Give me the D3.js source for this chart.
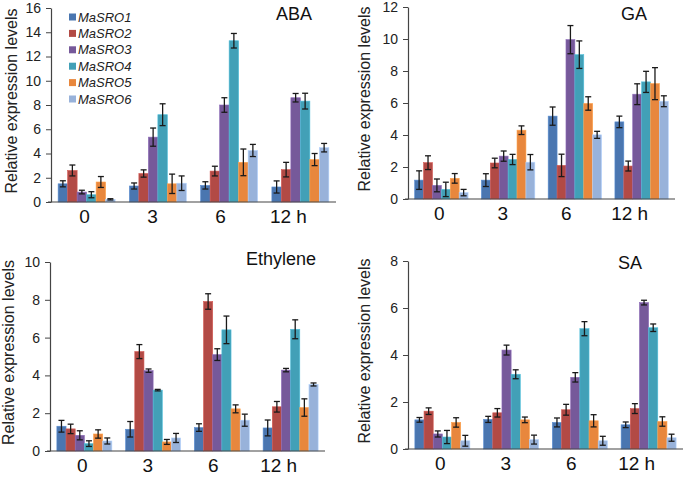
<!DOCTYPE html>
<html>
<head>
<meta charset="utf-8">
<script src="https://cdn.jsdelivr.net/npm/d3@7"></script>
<style>
  body { margin: 0; background: #fff; }
  svg { display: block; font-family: "Liberation Sans", Arial, sans-serif; }
  .axis path, .axis line { stroke: #444; }
  .axis text { fill: #222; font-size: 14px; }
</style>
</head>
<body>
<div id="root"></div>
<script>
// time points and genes
const times = ["0", "3", "6", "12 h"]
const genes = ["MaSRO1", "MaSRO2", "MaSRO3", "MaSRO4", "MaSRO5", "MaSRO6"]
const colors = ["#4A76B0", "#B24A45", "#76599A", "#42A0B7", "#E8873D", "#98B2DA"]

// means / errors per time point, one value per gene
const abaMean = [
  [1.50, 2.60, 0.82, 0.60, 1.65, 0.22],
  [1.32, 2.35, 5.35, 7.20, 1.50, 1.55],
  [1.37, 2.55, 8.00, 13.3, 3.27, 4.25],
  [1.24, 2.67, 8.60, 8.32, 3.50, 4.48]
]
const abaErr = [
  [0.25, 0.45, 0.15, 0.25, 0.45, 0.05],
  [0.25, 0.30, 0.75, 0.90, 0.80, 0.60],
  [0.30, 0.40, 0.60, 0.60, 1.10, 0.50],
  [0.50, 0.60, 0.35, 0.65, 0.50, 0.35]
]
const gaMean = [
  [1.18, 2.27, 0.85, 0.60, 1.29, 0.40],
  [1.18, 2.25, 2.68, 2.47, 4.30, 2.30],
  [5.18, 2.10, 9.96, 9.02, 5.97, 4.01],
  [4.82, 2.06, 6.55, 7.32, 7.21, 6.11]
]
const gaErr = [
  [0.58, 0.43, 0.40, 0.45, 0.30, 0.20],
  [0.40, 0.30, 0.32, 0.32, 0.27, 0.48],
  [0.57, 0.70, 0.88, 0.86, 0.42, 0.22],
  [0.36, 0.31, 0.65, 0.66, 1.00, 0.34]
]
const ethMean = [
  [1.31, 1.17, 0.83, 0.39, 0.90, 0.53],
  [1.15, 5.26, 4.25, 3.22, 0.48, 0.69],
  [1.24, 7.91, 5.10, 6.41, 2.23, 1.63],
  [1.22, 2.34, 4.28, 6.44, 2.30, 3.52]
]
const ethErr = [
  [0.31, 0.25, 0.24, 0.15, 0.22, 0.16],
  [0.41, 0.37, 0.09, 0.04, 0.13, 0.24],
  [0.20, 0.41, 0.31, 0.73, 0.21, 0.32],
  [0.42, 0.28, 0.09, 0.50, 0.46, 0.08]
]
const saMean = [
  [1.24, 1.61, 0.64, 0.51, 1.13, 0.35],
  [1.26, 1.54, 4.21, 3.18, 1.24, 0.40],
  [1.13, 1.67, 3.05, 5.12, 1.20, 0.35],
  [1.03, 1.72, 6.23, 5.16, 1.17, 0.48]
]
const saErr = [
  [0.10, 0.14, 0.13, 0.28, 0.20, 0.23],
  [0.13, 0.18, 0.21, 0.19, 0.12, 0.19],
  [0.19, 0.23, 0.20, 0.30, 0.26, 0.19],
  [0.12, 0.21, 0.10, 0.16, 0.20, 0.15]
]

// y tick labels for each panel
const abaTicks = [0, 2, 4, 6, 8, 10, 12, 14, 16]
const gaTicks = [0, 2, 4, 6, 8, 10, 12]
const ethTicks = [0, 2, 4, 6, 8, 10]
const saTicks = [0, 2, 4, 6, 8]

const yTitle = "Relative expression levels"

// panel layout (pixels)
const panels = [
  {name: "ABA", mean: abaMean, err: abaErr, ticks: abaTicks,
   left: 51, right: 336, top: 8, bottom: 202, yTitleX: 11, titleX: 276, titleY: 20, legend: true},
  {name: "GA", mean: gaMean, err: gaErr, ticks: gaTicks,
   left: 408, right: 675, top: 7, bottom: 199, yTitleX: 364, titleX: 621, titleY: 20},
  {name: "Ethylene", mean: ethMean, err: ethErr, ticks: ethTicks,
   left: 50, right: 325, top: 262, bottom: 451, yTitleX: 8, titleX: 246, titleY: 265},
  {name: "SA", mean: saMean, err: saErr, ticks: saTicks,
   left: 408, right: 683, top: 261, bottom: 449, yTitleX: 364, titleX: 618, titleY: 269}
]

class Main {
  constructor () {
    this.svg = d3.select("#root").append("svg")
      .attr("width", 685).attr("height", 478)
    panels.forEach(p => this.drawPanel(p))
  }

  drawPanel (p) {
    const g = this.svg.append("g")

    const y = d3.scaleLinear()
      .domain([0, d3.max(p.ticks)])
      .range([p.bottom, p.top])
    const x0 = d3.scaleBand()
      .domain(times)
      .range([p.left, p.right])
      .paddingInner(0.2)
      .paddingOuter(0.1)
    const x1 = d3.scaleBand()
      .domain(genes)
      .range([0, x0.bandwidth()])
    const c = d3.scaleOrdinal(colors).domain(genes)

    // labels sit a little left of the group centres in the original
    const c0 = x0(times[0]) + x0.bandwidth() / 2,
          c3 = x0(times[3]) + x0.bandwidth() / 2
    const xl = d3.scalePoint().domain(times).range([c0 - 2, c3 - 12])

    const rows = []
    p.mean.forEach((vals, i) => {
      vals.forEach((v, j) => {
        rows.push({time: times[i], gene: genes[j], val: v, err: p.err[i][j]})
      })
    })

    const bx = d => x0(d.time) + x1(d.gene)

    g.selectAll("rect.bar")
      .data(rows)
      .join("rect")
      .attr("class", "bar")
      .attr("x", d => bx(d))
      .attr("y", d => y(d.val))
      .attr("width", x1.bandwidth())
      .attr("height", d => y(0) - y(d.val))
      .attr("fill", d => c(d.gene))
      .attr("stroke", d => d3.color(c(d.gene)).brighter(0.5))
      .attr("stroke-width", 0.6)

    // error bars
    const eb = g.selectAll("g.err")
      .data(rows)
      .join("g")
      .attr("class", "err")
      .attr("stroke", "#1a1a1a")
      .attr("stroke-width", 1.3)
    const cx = d => bx(d) + x1.bandwidth() / 2
    eb.append("line")
      .attr("x1", cx).attr("x2", cx)
      .attr("y1", d => y(d.val + d.err))
      .attr("y2", d => y(Math.max(0, d.val - d.err)))
    eb.append("line")
      .attr("x1", d => cx(d) - 3).attr("x2", d => cx(d) + 3)
      .attr("y1", d => y(d.val + d.err)).attr("y2", d => y(d.val + d.err))
    eb.append("line")
      .attr("x1", d => cx(d) - 3).attr("x2", d => cx(d) + 3)
      .attr("y1", d => y(Math.max(0, d.val - d.err)))
      .attr("y2", d => y(Math.max(0, d.val - d.err)))

    // y axis
    g.append("g")
      .attr("class", "axis")
      .attr("transform", `translate(${p.left},0)`)
      .call(d3.axisLeft(y).tickValues(p.ticks).tickSize(5).tickSizeOuter(0).tickPadding(5))
      .call(s => s.select(".domain").attr("stroke-width", 1.2))

    // x axis: plain line with big labels
    g.append("line")
      .attr("x1", p.left - 3).attr("x2", p.right)
      .attr("y1", y(0)).attr("y2", y(0))
      .attr("stroke", "#444").attr("stroke-width", 1.2)
    g.selectAll("text.xlab")
      .data(times)
      .join("text")
      .attr("class", "xlab")
      .attr("x", d => xl(d))
      .attr("y", y(0) + 21)
      .attr("text-anchor", "middle")
      .attr("font-size", 19)
      .attr("fill", "#111")
      .text(d => d)

    // y title
    g.append("text")
      .attr("transform", `translate(${p.yTitleX},${(p.top + p.bottom) / 2 - 4}) rotate(-90)`)
      .attr("dy", "0.35em")
      .attr("text-anchor", "middle")
      .attr("font-size", 16)
      .attr("fill", "#222")
      .text(yTitle)

    // panel title
    g.append("text")
      .attr("x", p.titleX).attr("y", p.titleY)
      .attr("font-size", 18)
      .attr("fill", "#111")
      .text(p.name)

    if (p.legend) this.drawLegend(c)
  }

  drawLegend (c) {
    const lg = this.svg.append("g").attr("transform", "translate(69,17)")
    const item = lg.selectAll("g")
      .data(genes)
      .join("g")
      .attr("transform", (d, i) => `translate(0,${i * 16.4})`)
    item.append("rect")
      .attr("x", 0).attr("y", -3.5)
      .attr("width", 7).attr("height", 7)
      .attr("fill", d => c(d))
    item.append("text")
      .attr("x", 9).attr("dy", "0.35em")
      .attr("font-size", 13)
      .attr("font-style", "italic")
      .attr("fill", "#222")
      .text(d => d)
  }
}

new Main()
</script>
</body>
</html>
